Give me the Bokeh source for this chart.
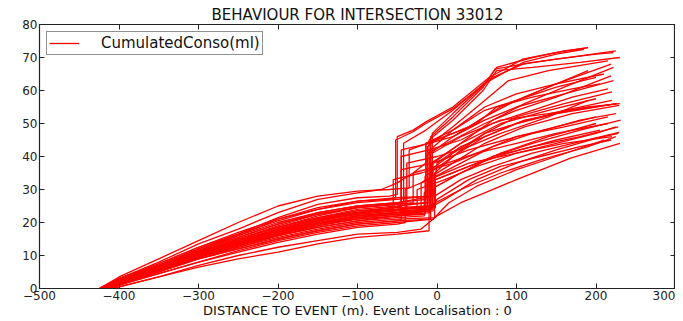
from bokeh.plotting import figure
from bokeh.models import LinearAxis, FixedTicker, Range1d, ColumnDataSource
from bokeh.embed import file_html
from bokeh.resources import INLINE

# ---------------- data ----------------
title_text = "BEHAVIOUR FOR INTERSECTION 33012"
x_label = "DISTANCE TO EVENT (m). Event Localisation : 0"
series_name = "CumulatedConso(ml)"

x_ticks = [-500, -400, -300, -200, -100, 0, 100, 200, 300]
x_tick_labels = ["\u2212500", "\u2212400", "\u2212300", "\u2212200", "\u2212100", "0", "100", "200", "300"]
y_ticks = [0, 10, 20, 30, 40, 50, 60, 70, 80]
y_tick_labels = ["0", "10", "20", "30", "40", "50", "60", "70", "80"]

run_x = [
    [-418,-400,-350,-300,-250,-200,-150,-100,-60,-50,-50,-30,-14,20,66,108,150,190],
    [-420,-400,-350,-300,-250,-200,-150,-100,-60,-52,-52,-30,-14,20,66,108,150,185],
    [-416,-400,-350,-300,-250,-200,-150,-100,-60,-42,-42,-14,20,66,108,150,200,222],
    [-422,-400,-350,-300,-250,-200,-150,-100,-50,-8,-8,20,58,73,120,180,225],
    [-420,-400,-350,-300,-250,-200,-150,-100,-50,-10,-10,20,58,75,120,180,230],
    [-415,-400,-350,-300,-250,-200,-150,-100,-50,-6,-6,20,60,75,120,160,190],
    [-418,-400,-350,-300,-250,-200,-150,-100,-50,-14,-14,20,60,100,150,219],
    [-412,-400,-350,-300,-250,-200,-150,-100,-50,-5,-5,30,70,110,160,222],
    [-425,-400,-350,-300,-250,-200,-150,-100,-50,-12,-12,20,60,100,150,219],
    [-420,-400,-350,-300,-250,-200,-150,-100,-45,-45,-10,20,60,100,160,222],
    [-418,-400,-350,-300,-250,-200,-150,-100,-50,-8,-8,20,60,100,160,220],
    [-410,-400,-350,-300,-250,-200,-150,-100,-50,-15,-15,20,60,100,160,220],
    [-424,-400,-350,-300,-250,-200,-150,-100,-50,-5,0,30,70,110,170,226],
    [-416,-400,-350,-300,-250,-200,-150,-100,-50,-20,-20,20,60,110,170,229],
    [-420,-400,-350,-300,-250,-200,-150,-100,-50,-10,-10,30,70,120,180,225],
    [-414,-400,-350,-300,-250,-200,-150,-100,-50,-8,-8,30,70,120,180,231],
    [-422,-400,-350,-300,-250,-200,-150,-100,-50,-12,-12,30,70,120,180,228],
    [-418,-400,-350,-300,-250,-200,-150,-100,-50,-3,-3,30,70,120,180,229],
    [-412,-400,-350,-300,-250,-200,-150,-100,-50,-40,-40,0,40,100,160,220],
    [-420,-400,-350,-300,-250,-200,-150,-100,-50,-10,0,40,80,130,180,219],
    [-408,-400,-350,-300,-250,-200,-150,-100,-50,-20,0,30,60,100,168,230],
    [-417,-400,-350,-300,-250,-200,-150,-100,-50,-45,-45,-10,30,70,120,170,215],
    [-421,-400,-350,-300,-250,-200,-150,-100,-50,-14,-14,20,50,75,120,170,205],
    [-419,-400,-350,-300,-250,-200,-150,-100,-50,-6,-6,30,80,140,190,230],
    [-423,-400,-350,-300,-250,-200,-150,-100,-50,-7,-7,30,80,140,200],
    [-416,-400,-350,-300,-250,-200,-150,-100,-50,-16,-16,30,80,140,200],
    [-420,-400,-350,-300,-250,-200,-150,-100,-50,-2,-2,40,90,150,205],
    [-414,-400,-350,-300,-250,-200,-150,-100,-50,-45,-45,-5,40,100,160,215],
    [-418,-400,-350,-300,-250,-200,-150,-100,-50,-9,-9,20,60,100,150,210],
    [-421,-400,-350,-300,-250,-200,-150,-100,-50,-12,-12,20,60,90,140,215],
    [-424,-400,-350,-300,-250,-200,-150,-100,-70,-50,-30,-14,-14,20,60,100,150,200],
    [-415,-400,-350,-300,-250,-200,-150,-100,-50,-20,10,50,100,150,200,228],
    [-419,-400,-350,-300,-250,-200,-150,-100,-50,-25,-25,10,50,100,150,200,225],
    [-413,-400,-350,-300,-250,-200,-150,-100,-50,-5,15,50,100,150,210],
    [-421,-400,-350,-300,-250,-200,-150,-100,-50,-30,-30,0,50,100,150,215],
    [-417,-400,-350,-300,-250,-200,-150,-100,-55,-55,-20,20,60,100,150,200],
    [-425,-400,-350,-300,-250,-200,-150,-100,-60,-35,-35,0,40,80,130,190],
    [-410,-400,-350,-300,-250,-200,-150,-100,-50,-10,-10,30,80,130,190,225],
    [-418,-400,-350,-300,-250,-200,-150,-100,-50,-3,-3,25,60,100,150,200,226],
    [-416,-400,-350,-300,-250,-200,-150,-100,-50,-38,-38,0,40,80,140,190],
]
run_y = [
    [0,2.5,7,12,16.5,21.5,25.5,27.5,28,28.5,46,48,50.5,55,64,69.5,71.5,73],
    [0,2,6.5,11.5,16,21,24.5,26.5,27,27.5,45,47.5,50,54.5,63,68.5,71,72.5],
    [0,1.5,6,11,15,19,22.5,24.5,25.5,26,44,48,54,63.5,68,69.5,71,71.5],
    [0,2,5.5,10,13.5,17,20.5,23,24,25,46,52,61,66.5,68.5,70.5,72],
    [0,2.5,6.5,11,15,18.5,21.5,24,25,26,45,51,60,66,67,68.5,70],
    [0,1.5,5.5,10.5,14.5,18,21,23,24,24.5,47,53,62,67,70,72,73],
    [0,2,6,10.5,14,17.5,20.5,22.5,23.5,24,40,46,52,57,62,68],
    [0,1,5,9.5,13,16.5,19.5,22,23,23.5,38,44,51,56,61,67],
    [0,3,7.5,12.5,17,21,24,26,27,28,41,45,50,54,58,64.4],
    [0,2.5,6.5,11,14.5,18,21,23,25,42,44,46,51,55,59,63],
    [0,2,6,10,13.5,17,20,22,23,24,36,41,47,52,56,59.6],
    [0,1,5,9,12.5,16,19,21,22,22.5,34,40,46,50,54,57],
    [0,3,7,12,16,20,23,25,26,28,38,43,47,51,54,56],
    [0,1.5,5.5,9.5,13,16.5,19.5,21.5,22.5,23,32,38,44,49,53,55.5],
    [0,2.5,6.5,10.5,14,17.5,20,22,23,23.5,33,38,43,47,51,53],
    [0,1.5,5,9,12,15,17.5,19.5,20.5,21,30,35,40,44,48,51],
    [0,2.5,6.5,11,15,18.5,21.5,23.5,24.5,25,32,36,40,43,46,49],
    [0,2,5.5,9.5,12.5,15.5,18,20,21,21.5,28,33,37,41,44.5,47.3],
    [0,1,4.5,8,11,14,16.5,18.5,19.5,20,30,34,38,41,44,46],
    [0,2,6,10,13.5,17,19.5,21,22,23,27,33,37,40,43,45],
    [0,0.5,3.5,7,10,12.5,14.5,16.5,17,18,22,26,29,33,39.5,44],
    [0,2,6,10.5,14.5,18,21,23.5,24.5,25,40,42,45,50,54,58,60.5],
    [0,2.5,7,11.5,15.5,19.5,23,25,26,27,44,47,50,55,58,60.5,62],
    [0,2,6,10,14,17.5,20.5,22.5,23.5,24,41,46,51,53,55,56],
    [0,3,7.5,12.5,16.5,20.5,24,26.5,27.5,28,38,44,50,54,57.5],
    [0,1.5,5.5,9.5,13,16,18.5,20.5,21.5,22,29,35,41,46,50],
    [0,2,6.5,11,14.5,18,21,23,24,24.5,33,37,41,45,48],
    [0,1.5,5.5,9,12,15,17.5,19.5,20.5,21,36,38,42,46,49,52],
    [0,2,6,10.5,14,17.5,20.5,23,24,25,42,48,55,59,62,65],
    [0,2.5,6.5,11,15,18.5,22,24.5,25.5,26,43,49,57,63,66,69],
    [0,3,8,13.5,18,23,27,29,30,32,35,38,44,48,54,57,61,64],
    [0,1.5,5.5,9.5,13,16,18.5,20.5,22,23,27,33,38,42,45.5,47],
    [0,2,6,10,13.5,17,19.5,21.5,22.5,23,30,33,37,41,44,47,49],
    [0,1,4.5,8,11.5,14.5,17,19,20,21,26,31,36,40,45],
    [0,2.5,7,11.5,15.5,19.5,22.5,24.5,25.5,26,35,37,41,44,47,50],
    [0,2,6,10,13.5,16.5,19,21.5,23,33,35,38,42,46,49,52],
    [0,3.5,9,14.5,20,25,28,29.5,30,30.5,42,45,49,55,60,66],
    [0,0.5,3.5,6.5,9,11,13.5,15.5,16.5,17.5,25,30,35,39,43,46],
    [0,2,6,10,14,17.5,20.5,23,24,25,35,41,47,50,53,55,56],
    [0,1.5,5.5,9.5,13,16.5,19.5,22,23,23.5,38,40,43,47,52,57],
]

# ---------------- figure ----------------
p = figure(width=675, height=320,
           x_range=Range1d(-500, 300), y_range=Range1d(0, 80),
           output_backend="svg", toolbar_location=None,
           min_border_left=39, min_border_right=0, min_border_top=24, min_border_bottom=0)

p.title.text = title_text
p.title.align = "center"
p.title.text_font = "DejaVu Sans"
p.title.text_font_size = "15px"
p.title.text_font_style = "normal"
p.title.text_color = "#111111"
p.title.standoff = 2

p.xgrid.visible = False
p.ygrid.visible = False
p.outline_line_color = "#222222"
p.outline_line_width = 1.2
p.background_fill_color = "white"
p.border_fill_color = "white"

src = ColumnDataSource(data=dict(xs=run_x, ys=run_y))
p.multi_line(xs="xs", ys="ys", source=src, line_color="#ff0000", line_width=1.3,
             legend_label=series_name)

def style_axis(ax, ticks, labels, show_labels=True):
    ax.ticker = FixedTicker(ticks=ticks)
    ax.major_tick_in = 5
    ax.major_tick_out = 0
    ax.minor_tick_line_color = None
    ax.axis_line_color = "#222222"
    ax.major_tick_line_color = "#222222"
    if show_labels:
        ax.major_label_overrides = {t: l for t, l in zip(ticks, labels)}
        ax.major_label_text_font = "DejaVu Sans"
        ax.major_label_text_font_size = "12px"
        ax.major_label_text_color = "#222222"
        ax.major_label_standoff = 2
    else:
        ax.major_label_overrides = {t: "" for t in ticks}
        ax.major_label_text_font_size = "0px"
        ax.major_label_standoff = 0

style_axis(p.xaxis[0], x_ticks, x_tick_labels)
style_axis(p.yaxis[0], y_ticks, y_tick_labels)
p.xaxis[0].axis_label = x_label
p.xaxis[0].axis_label_text_font = "DejaVu Sans"
p.xaxis[0].axis_label_text_font_size = "13px"
p.xaxis[0].axis_label_text_font_style = "normal"
p.xaxis[0].axis_label_text_color = "#111111"
p.xaxis[0].axis_label_standoff = 0

ax_r = LinearAxis()
style_axis(ax_r, y_ticks, y_tick_labels, show_labels=False)
p.add_layout(ax_r, "right")
ax_t = LinearAxis()
style_axis(ax_t, x_ticks, x_tick_labels, show_labels=False)
p.add_layout(ax_t, "above")

lg = p.legend[0]
lg.location = "top_left"
lg.margin = 7
lg.padding = 2
lg.spacing = 0
lg.label_text_font = "DejaVu Sans"
lg.label_text_font_size = "15px"
lg.label_text_color = "#111111"
lg.glyph_width = 30
lg.glyph_height = 14
lg.label_standoff = 22
lg.label_height = 14
lg.border_line_color = "#222222"
lg.border_line_width = 1.2
lg.background_fill_alpha = 1.0

open("out.html", "w").write(file_html(p, INLINE))
